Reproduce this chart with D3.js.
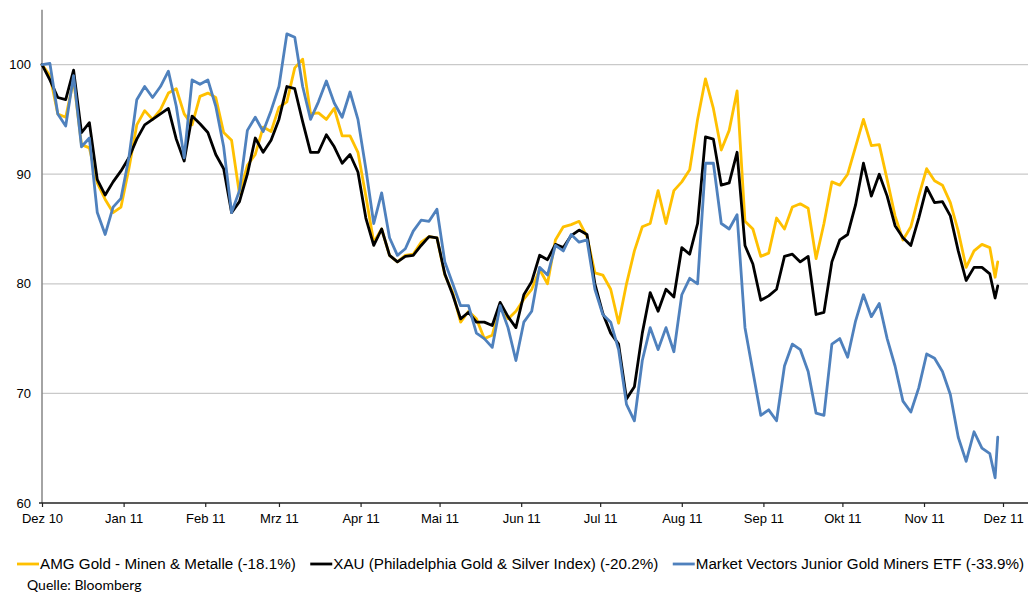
<!DOCTYPE html>
<html><head><meta charset="utf-8">
<script src="https://cdn.jsdelivr.net/npm/d3@7"></script>
<style>body{margin:0;background:#fff;} svg{display:block;font-family:"Liberation Sans",Arial,sans-serif;}</style>
</head><body><svg id="c" width="1030" height="593"></svg>
<script>
// ---- data ----
const startDate = "2010-12-01";
const dayOffsets = [0,3,6,9,12,15,18,21,24,27,30,33,36,39,42,45,48,51,54,57,60,63,66,69,72,75,78,81,84,87,90,93,96,99,102,105,108,111,114,117,120,123,126,129,132,135,138,141,144,147,150,153,156,159,162,165,168,171,174,177,180,183,186,189,192,195,198,201,204,207,210,213,216,219,222,225,228,231,234,237,240,243,246,249,252,255,258,261,264,267,270,273,276,279,282,285,288,291,294,297,300,303,306,309,312,315,318,321,324,327,330,333,336,339,342,345,348,351,354,357,360,362,363];
const amg = [100,99.0,95.5,95.2,98.6,92.7,92.4,89.2,87.7,86.5,
 87.0,90.5,94.5,95.8,95.0,95.9,97.4,97.8,95.5,94.5,
 97.1,97.4,97.0,93.8,93.1,88.2,90.8,91.8,94.3,93.9,
 96.1,96.6,99.7,100.5,95.5,95.6,95.0,96.0,93.5,93.5,
 92.0,88.0,83.8,85.0,82.6,82.0,82.6,82.7,83.8,84.3,
 84.2,80.8,79.2,76.5,77.5,76.8,75.0,75.3,78.0,76.8,
 77.5,78.6,79.5,81.3,80.0,84.0,85.2,85.4,85.7,84.3,
 81.0,80.8,79.5,76.4,80.0,83.0,85.2,85.5,88.5,85.5,
 88.5,89.3,90.4,95.0,98.7,96.0,92.2,94.0,97.6,85.7,
 85.0,82.5,82.8,86.0,85.0,87.0,87.3,86.9,82.3,85.5,
 89.3,89.0,90.0,92.5,95.0,92.6,92.7,89.5,86.2,84.0,
 85.2,88.0,90.5,89.4,89.0,87.4,84.8,81.5,83.0,83.6,
 83.3,80.6,82.0];
const xau = [100,98.6,97.0,96.8,99.5,93.8,94.7,89.5,88.1,89.3,
 90.3,91.5,93.2,94.5,95.0,95.5,96.0,93.2,91.2,95.3,
 94.6,93.8,91.8,90.5,86.5,87.5,90.0,93.3,92.0,93.1,
 95.0,98.0,97.8,94.8,92.0,92.0,93.6,92.5,91.0,91.8,
 90.2,86.0,83.5,85.0,82.6,82.0,82.5,82.6,83.5,84.3,
 84.2,80.9,79.0,76.8,77.4,76.5,76.5,76.2,78.3,77.0,
 76.0,79.0,80.2,82.6,82.2,83.6,83.3,84.4,84.9,84.5,
 80.0,77.3,75.5,74.5,69.5,70.6,75.5,79.2,77.5,79.5,
 78.8,83.3,82.7,85.5,93.4,93.2,89.0,89.2,92.0,83.5,
 81.8,78.5,78.9,79.5,82.5,82.7,82.0,82.5,77.2,77.4,
 82.0,84.0,84.5,87.2,91.0,88.0,90.0,88.0,85.3,84.2,
 83.5,86.0,88.8,87.4,87.5,86.2,83.0,80.3,81.5,81.5,
 80.9,78.7,79.8];
const gdxj = [100,100.1,95.5,94.4,99.0,92.5,93.3,86.5,84.5,87.0,
 87.8,91.5,96.8,98.0,97.0,98.0,99.4,96.2,91.5,98.6,
 98.2,98.6,96.2,92.5,86.5,88.5,94.0,95.2,93.9,95.8,
 98.0,102.8,102.5,98.0,95.0,96.6,98.5,96.5,95.2,97.5,
 95.0,90.5,85.5,88.3,84.2,82.6,83.2,84.8,85.8,85.7,
 86.8,82.0,80.0,78.0,78.0,75.5,75.0,74.2,78.0,76.0,
 73.0,76.5,77.5,81.5,80.8,83.5,83.0,84.5,83.8,84.0,
 79.5,77.2,76.5,74.0,69.0,67.5,73.0,76.0,74.0,76.0,
 73.8,79.0,80.5,80.0,91.0,91.0,85.5,85.0,86.3,76.0,
 72.0,68.0,68.5,67.5,72.5,74.5,74.0,72.0,68.2,68.0,
 74.5,75.0,73.3,76.6,79.0,77.0,78.2,75.0,72.5,69.3,
 68.3,70.5,73.6,73.2,72.0,69.9,66.0,63.8,66.5,65.0,
 64.5,62.3,66.0];
const seriesNames = ["AMG Gold - Minen & Metalle (-18.1%)","XAU (Philadelphia Gold & Silver Index) (-20.2%)","Market Vectors Junior Gold Miners ETF (-33.9%)"];
const seriesColors = ["#FFC000","#000000","#4F81BD"];
const tickDates = ["2010-12-01","2011-01-01","2011-02-01","2011-03-01","2011-04-01","2011-05-01","2011-06-01","2011-07-01","2011-08-01","2011-09-01","2011-10-01","2011-11-01","2011-12-01"];
const tickLabels = ["Dez 10","Jan 11","Feb 11","Mrz 11","Apr 11","Mai 11","Jun 11","Jul 11","Aug 11","Sep 11","Okt 11","Nov 11","Dez 11"];
const yTicks = [60,70,80,90,100];
const yGrid = [70,80,90,100];
const yMin = 60, yMax = 105;
const sourceText = "Quelle: Bloomberg";

// ---- chart ----
const parse = d3.timeParse("%Y-%m-%d");
const t0 = parse(startDate);
const dates = dayOffsets.map(d => d3.timeDay.offset(t0, d));
const svg = d3.select("#c");
const left = 42, right = 1028, bottom = 503;
const x = d3.scaleTime().domain([parse(tickDates[0]), parse(tickDates[tickDates.length-1])]).range([42, 1003]);
const y = d3.scaleLinear().domain([yMin, yMax]).range([bottom, 9.8]);

// grid
svg.append("g").selectAll("line").data(yGrid).join("line")
  .attr("x1", left).attr("x2", right).attr("y1", d=>y(d)).attr("y2", d=>y(d))
  .attr("stroke", "#C9C9C9").attr("stroke-width", 1.2);

// y axis
const gy = svg.append("g").attr("transform", `translate(${left},0)`)
  .call(d3.axisLeft(y).tickValues(yTicks).tickSize(0).tickPadding(11));
gy.select(".domain").remove();
gy.selectAll("text").attr("font-size", 13).attr("font-family", "Liberation Sans, Arial, sans-serif").attr("fill", "#000");
svg.append("line").attr("x1", left).attr("x2", left).attr("y1", y(yMax)).attr("y2", y(yMin))
  .attr("stroke", "#868686").attr("stroke-width", 1.5);

// x axis
const gx = svg.append("g").attr("transform", `translate(0,${bottom})`)
  .call(d3.axisBottom(x).tickValues(tickDates.map(parse)).tickFormat((d,i)=>tickLabels[i]).tickSize(4).tickPadding(7));
gx.select(".domain").remove();
gx.selectAll("line").attr("stroke", "#222").attr("stroke-width", 1.2);
gx.selectAll("text").attr("font-size", 13).attr("font-family", "Liberation Sans, Arial, sans-serif").attr("fill", "#000");
svg.append("line").attr("x1", 39).attr("x2", right).attr("y1", bottom).attr("y2", bottom)
  .attr("stroke", "#222").attr("stroke-width", 1.5);

// lines
const seriesData = [amg, xau, gdxj];
const line = d3.line().x((d,i)=>x(dates[i])).y(d=>y(d));
seriesData.forEach((s, k) => {
  svg.append("path").datum(s).attr("d", line)
    .attr("fill", "none").attr("stroke", seriesColors[k]).attr("stroke-width", 2.8)
    .attr("stroke-linejoin", "round").attr("stroke-linecap", "round");
});

// legend
let lx = 17;
const ly = 564;
seriesNames.forEach((name, k) => {
  svg.append("line").attr("x1", lx).attr("x2", lx + 22).attr("y1", ly).attr("y2", ly)
    .attr("stroke", seriesColors[k]).attr("stroke-width", 2.8);
  const t = svg.append("text").attr("x", lx + 23).attr("y", ly).attr("dy", "0.36em")
    .attr("font-size", 15.2).attr("fill", "#000").text(name);
  lx += 23 + t.node().getComputedTextLength() + 14.5;
});

// source
svg.append("text").attr("x", 27).attr("y", 590).attr("font-family", "Lato, 'Open Sans', sans-serif")
  .attr("font-size", 14).attr("fill", "#000").text(sourceText);
</script>
</body></html>
